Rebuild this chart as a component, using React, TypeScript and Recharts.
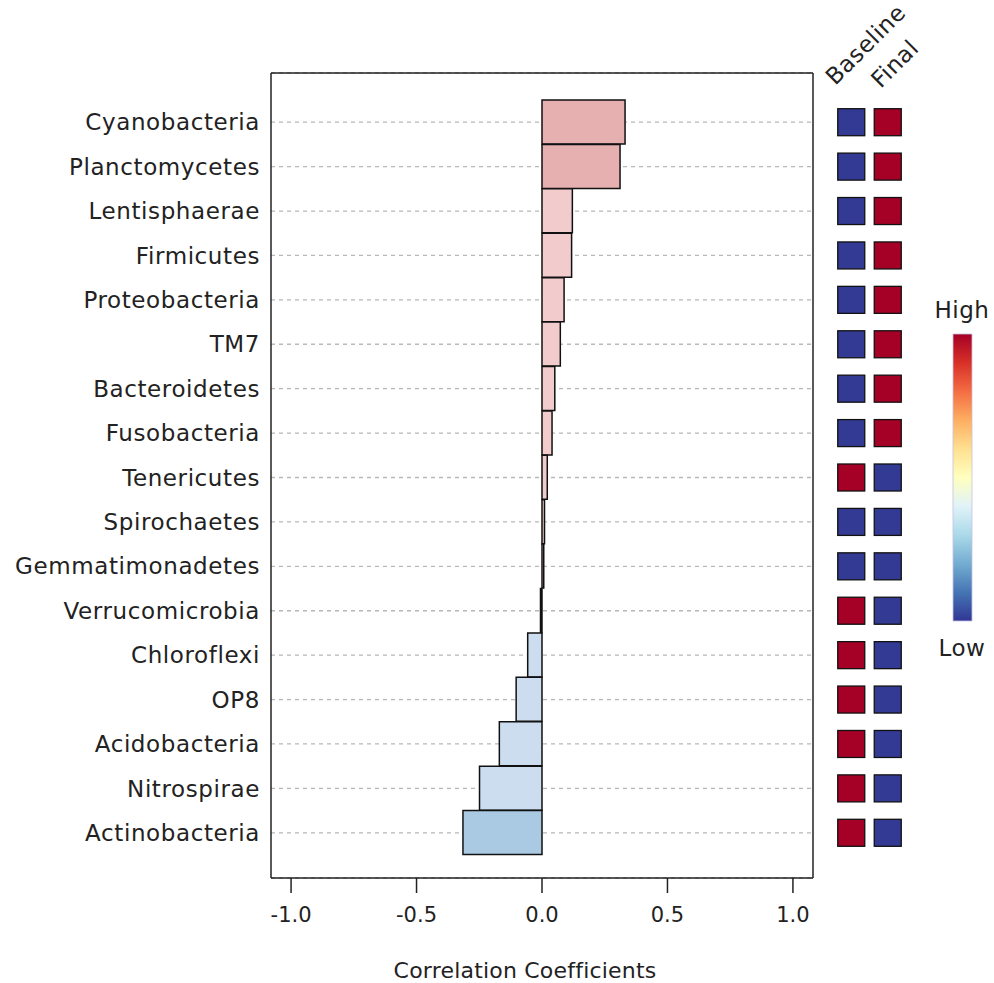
import React from 'react';
import {
  ComposedChart, Bar, Cell, XAxis, YAxis, CartesianGrid,
  ScatterChart, Scatter,
} from 'recharts';

const categories = [
  'Cyanobacteria', 'Planctomycetes', 'Lentisphaerae', 'Firmicutes', 'Proteobacteria',
  'TM7', 'Bacteroidetes', 'Fusobacteria', 'Tenericutes', 'Spirochaetes',
  'Gemmatimonadetes', 'Verrucomicrobia', 'Chloroflexi', 'OP8', 'Acidobacteria',
  'Nitrospirae', 'Actinobacteria',
];
const correlations = [
  0.331, 0.311, 0.121, 0.118, 0.088, 0.073, 0.051, 0.04, 0.021, 0.01,
  0.007, -0.006, -0.057, -0.103, -0.17, -0.249, -0.315,
];
// 1 = High, 0 = Low
const baselineLevel = [0, 0, 0, 0, 0, 0, 0, 0, 1, 0, 0, 1, 1, 1, 1, 1, 1];
const finalLevel = [1, 1, 1, 1, 1, 1, 1, 1, 0, 0, 0, 0, 0, 0, 0, 0, 0];
const timepoints = ['Baseline', 'Final'];
const xTicks = [-1, -0.5, 0, 0.5, 1];

const barData = categories.map((name, i) => ({ name, value: correlations[i] }));
const baselineCells = categories.map((name, i) => ({ t: timepoints[0], name, level: baselineLevel[i] }));
const finalCells = categories.map((name, i) => ({ t: timepoints[1], name, level: finalLevel[i] }));

const FONT = 'DejaVu Sans, sans-serif';
const TEXT = '#222';

const barColor = (v: number) => {
  if (v > 0.2) return '#E6AFB0';
  if (v > 0) return '#F2CCCD';
  if (v < -0.3) return '#AACAE4';
  return '#CCDDEF';
};

const HIGH = '#A50026';
const LOW = '#333A94';

const Square = (props: any) => {
  const { cx, cy, payload } = props;
  const s = 27;
  return (
    <rect x={cx - s / 2} y={cy - s / 2} width={s} height={s}
      fill={payload.level ? HIGH : LOW} stroke="#111" strokeWidth={1.3} />
  );
};

const labelShift: Record<string, [number, number]> = {
  Baseline: [-16, 13],
  Final: [-7, 16],
};

const TopTick = (props: any) => {
  const { x, y, payload } = props;
  const [dx, dy] = labelShift[payload.value] || [0, 0];
  return (
    <text transform={`translate(${x + dx},${y + dy}) rotate(-45)`} textAnchor="start"
      fontSize={23} letterSpacing={0.5} fontFamily={FONT} fill={TEXT}>{payload.value}</text>
  );
};

const rdylbu = ['#313695', '#4575B4', '#74ADD1', '#ABD9E9', '#E0F3F8', '#FFFFBF', '#FEE090', '#FDAE61', '#F46D43', '#D73027', '#A50026'];

export default function App() {
  return (
    <div style={{ position: 'fixed', left: 0, top: 0, width: 994, height: 983, background: '#fff' }}>
      <div style={{ position: 'absolute', left: 0, top: 0 }}>
        <ComposedChart width={994} height={983} data={barData} layout="vertical"
          margin={{ top: 72, right: 180, bottom: 0, left: 0 }} barCategoryGap={0}>
          <CartesianGrid horizontal vertical={false} stroke="#b8b8b8" strokeDasharray="4 4" strokeWidth={1.3} />
          <XAxis type="number" domain={[-1.08, 1.08]} ticks={xTicks} allowDataOverflow
            tickFormatter={(v: number) => v.toFixed(1)} height={105}
            axisLine={{ stroke: '#222', strokeWidth: 1.5 }} tickLine={{ stroke: '#222', strokeWidth: 1.5 }}
            tickSize={15} tickMargin={14}
            tick={{ fontSize: 21, fontFamily: FONT, fill: TEXT }}
            label={{ value: 'Correlation Coefficients', position: 'insideTop', offset: 84, dx: -17, fontSize: 22, letterSpacing: 0.2, fontFamily: FONT, fill: TEXT }} />
          <XAxis xAxisId="top" orientation="top" type="number" domain={[-1.08, 1.08]} height={1}
            tick={false} tickLine={false} axisLine={{ stroke: '#222', strokeWidth: 1.5 }} />
          <YAxis type="category" dataKey="name" width={271} padding={{ top: 27, bottom: 23 }}
            axisLine={{ stroke: '#222', strokeWidth: 1.5 }} tickLine={false} tickSize={0} tickMargin={11}
            interval={0} tick={{ fontSize: 23, letterSpacing: 0.6, fontFamily: FONT, fill: TEXT }} />
          <YAxis yAxisId="right" orientation="right" type="category" dataKey="name" width={1}
            padding={{ top: 27, bottom: 23 }} tick={false} tickLine={false}
            axisLine={{ stroke: '#222', strokeWidth: 1.5 }} />
          <Bar dataKey="value" stroke="#111" strokeWidth={1.5} isAnimationActive={false}>
            {barData.map((d) => <Cell key={d.name} fill={barColor(d.value)} />)}
          </Bar>
        </ComposedChart>
      </div>
      <div style={{ position: 'absolute', left: 820, top: 0 }}>
        <ScatterChart width={150} height={983} margin={{ top: 72, right: 64, bottom: 105, left: 13 }}>
          <XAxis type="category" dataKey="t" orientation="top" height={1}
            allowDuplicatedCategory={false} axisLine={false} tickLine={false} tickSize={0} tickMargin={0}
            interval={0} tick={<TopTick />} />
          <YAxis type="category" dataKey="name" hide reversed allowDuplicatedCategory={false}
            padding={{ top: 27, bottom: 23 }} width={0} />
          <Scatter data={baselineCells} shape={<Square />} isAnimationActive={false} />
          <Scatter data={finalCells} shape={<Square />} isAnimationActive={false} />
        </ScatterChart>
      </div>
      <svg width={994} height={983} style={{ position: 'absolute', left: 0, top: 0, pointerEvents: 'none' }}>
        <defs>
          <linearGradient id="rdylbu" x1="0" y1="1" x2="0" y2="0">
            {rdylbu.map((c, i) => <stop key={c} offset={i / (rdylbu.length - 1)} stopColor={c} />)}
          </linearGradient>
        </defs>
        <text x={962} y={318} textAnchor="middle" fontSize={23} letterSpacing={0.5} fontFamily={FONT} fill={TEXT}>High</text>
        <rect x={953} y={334} width={19} height={287} fill="url(#rdylbu)" stroke="#c8c0e0" strokeWidth={0.8} />
        <text x={962} y={656} textAnchor="middle" fontSize={23} letterSpacing={0.5} fontFamily={FONT} fill={TEXT}>Low</text>
      </svg>
    </div>
  );
}
